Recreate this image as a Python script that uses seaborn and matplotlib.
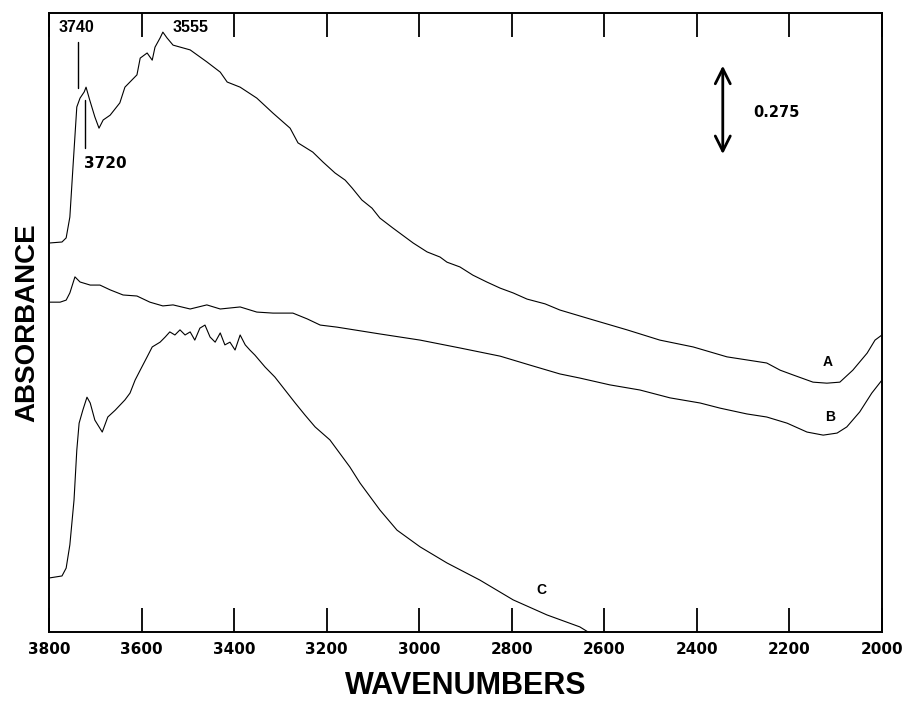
import numpy as np
import pandas as pd
import matplotlib
matplotlib.use("Agg")
import matplotlib.pyplot as plt
import seaborn as sns

# ── Spectra (wavenumber, absorbance) ─────────────────────────────────────────
wn_a = [3800, 3772, 3763, 3755, 3748, 3740, 3733, 3724, 3720, 3712, 3701, 3692,
        3683, 3668, 3647, 3636, 3610, 3603, 3588, 3577, 3571, 3560, 3554, 3545,
        3532, 3495, 3459, 3430, 3415, 3387, 3351, 3316, 3279, 3262, 3230, 3208,
        3182, 3160, 3145, 3124, 3102, 3085, 3057, 3031, 3013, 2983, 2955, 2940,
        2912, 2884, 2854, 2825, 2797, 2767, 2728, 2696, 2624, 2551, 2480, 2408,
        2335, 2292, 2249, 2220, 2192, 2149, 2119, 2091, 2063, 2032, 2015, 2000]
abs_a = [1.138, 1.141, 1.153, 1.214, 1.366, 1.536, 1.562, 1.580, 1.594, 1.556,
         1.507, 1.474, 1.498, 1.512, 1.548, 1.594, 1.630, 1.679, 1.694, 1.673,
         1.711, 1.738, 1.755, 1.738, 1.717, 1.703, 1.668, 1.638, 1.609, 1.594,
         1.562, 1.518, 1.474, 1.431, 1.404, 1.375, 1.343, 1.322, 1.299, 1.264,
         1.240, 1.211, 1.182, 1.156, 1.138, 1.112, 1.097, 1.082, 1.068, 1.044,
         1.024, 1.006, 0.992, 0.974, 0.960, 0.942, 0.913, 0.884, 0.854, 0.834,
         0.805, 0.796, 0.787, 0.766, 0.752, 0.731, 0.728, 0.731, 0.766, 0.816,
         0.854, 0.869]

wn_b = [3800, 3776, 3763, 3755, 3744, 3733, 3711, 3690, 3668, 3640, 3610, 3582,
        3554, 3532, 3495, 3459, 3430, 3387, 3351, 3316, 3273, 3242, 3214, 3178,
        3085, 2998, 2912, 2825, 2761, 2696, 2653, 2588, 2523, 2458, 2393, 2350,
        2292, 2249, 2205, 2162, 2127, 2097, 2076, 2048, 2022, 2000]
abs_b = [0.965, 0.965, 0.971, 0.992, 1.039, 1.024, 1.015, 1.015, 1.001, 0.986,
         0.983, 0.965, 0.954, 0.957, 0.945, 0.957, 0.945, 0.951, 0.936, 0.933,
         0.933, 0.916, 0.898, 0.892, 0.872, 0.854, 0.831, 0.807, 0.781, 0.755,
         0.743, 0.723, 0.708, 0.685, 0.670, 0.655, 0.638, 0.629, 0.611, 0.585,
         0.576, 0.582, 0.600, 0.644, 0.699, 0.737]

wn_c = [3800, 3772, 3763, 3755, 3746, 3740, 3735, 3727, 3718, 3711, 3701, 3685,
        3673, 3657, 3636, 3625, 3614, 3603, 3588, 3577, 3560, 3549, 3539, 3528,
        3517, 3506, 3495, 3485, 3474, 3463, 3452, 3441, 3430, 3420, 3409, 3398,
        3387, 3376, 3366, 3355, 3333, 3312, 3290, 3268, 3247, 3225, 3193, 3150,
        3128, 3085, 3048, 2998, 2940, 2869, 2797, 2724, 2653, 2635]
abs_c = [0.158, 0.164, 0.187, 0.255, 0.386, 0.532, 0.611, 0.649, 0.687, 0.670,
         0.620, 0.585, 0.629, 0.649, 0.679, 0.699, 0.737, 0.766, 0.805, 0.834,
         0.848, 0.863, 0.878, 0.869, 0.884, 0.869, 0.878, 0.854, 0.889, 0.898,
         0.863, 0.848, 0.875, 0.840, 0.848, 0.825, 0.869, 0.840, 0.825, 0.810,
         0.775, 0.746, 0.708, 0.670, 0.635, 0.600, 0.562, 0.483, 0.436, 0.357,
         0.298, 0.249, 0.202, 0.152, 0.094, 0.050, 0.015, 0.000]

XTICKS = [3800, 3600, 3400, 3200, 3000, 2800, 2600, 2400, 2200, 2000]
SCALE_BAR = 0.275

# ── Plot ─────────────────────────────────────────────────────────────────────
sns.set_theme(style="white")
plt.rcParams["font.family"] = ["Liberation Sans", "DejaVu Sans"]
plt.rcParams["text.color"] = "black"
plt.rcParams["axes.labelcolor"] = "black"
plt.rcParams["xtick.color"] = "black"

fig = plt.figure(figsize=(9.03, 7.06), dpi=100)
ax = fig.add_axes([0.0543, 0.1048, 0.9224, 0.8768])

for wn, ab in [(wn_a, abs_a), (wn_b, abs_b), (wn_c, abs_c)]:
    df = pd.DataFrame({"wn": wn, "abs": ab})
    sns.lineplot(data=df, x="wn", y="abs", ax=ax, color="black", lw=0.8,
                 estimator=None, sort=False)

ax.set_xlim(3800, 2000)
ax.set_ylim(0, 1.811)
ax.set_xticks(XTICKS)
ax.set_xticklabels([str(t) for t in XTICKS], fontsize=11, fontweight="bold",
                   family="DejaVu Sans")
ax.set_yticks([])
ax.tick_params(axis="x", direction="in", length=17, width=1.3, top=True,
               bottom=True, pad=7, color="black")
for s in ax.spines.values():
    s.set_color("black")
    s.set_linewidth(1.4)

ax.set_xlabel("WAVENUMBERS", fontsize=22, fontweight="bold", labelpad=10)
ax.set_ylabel("ABSORBANCE", fontsize=20, fontweight="bold", labelpad=6)

# peak markers
ax.plot([3737, 3737], [1.591, 1.726], color="black", lw=1)
ax.text(3740, 1.770, "3740", fontsize=11.5, fontweight="bold", ha="center", va="center")
ax.plot([3722, 3722], [1.416, 1.556], color="black", lw=1)
ax.text(3679, 1.372, "3720", fontsize=11, fontweight="bold", ha="center", va="center",
        family="DejaVu Sans")
ax.text(3495, 1.770, "3555", fontsize=11.5, fontweight="bold", ha="center", va="center")

# scale bar
ax.annotate("", xy=(2344, 1.390), xytext=(2344, 1.390 + SCALE_BAR),
            arrowprops=dict(arrowstyle="<->,head_length=0.9,head_width=0.45",
                            color="black", lw=2))
ax.text(2279, 1.521, "0.275", fontsize=10.5, fontweight="bold", ha="left",
        va="center", family="DejaVu Sans")

# curve labels
ax.text(2117, 0.790, "A", fontsize=10, fontweight="bold", ha="center", va="center")
ax.text(2112, 0.629, "B", fontsize=10, fontweight="bold", ha="center", va="center")
ax.text(2735, 0.123, "C", fontsize=10, fontweight="bold", ha="center", va="center")

plt.savefig("out.png", dpi=100)
